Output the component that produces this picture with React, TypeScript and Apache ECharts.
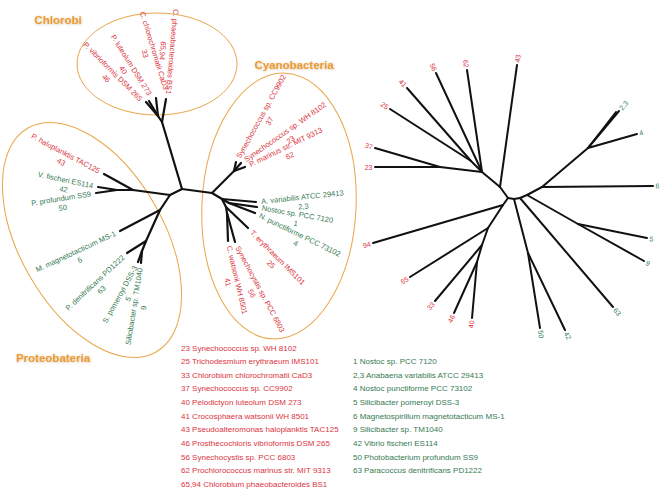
import React, { useEffect, useRef } from "react";
import * as echarts from "echarts";

const W = 662;
const H = 492;

// ---------- Left (labelled) tree: node coordinates in picture units ----------
const leftNodes: [string, number, number][] = [
  ["c0", 182, 189],
  ["ch", 162, 122], ["ch2", 158, 116],
  ["vib", 146, 102], ["lut", 149, 101], ["chl", 156, 98], ["pha", 166, 99],
  ["cy1", 212, 193], ["sn", 234, 171], ["s37", 236, 162], ["s23", 241, 163], ["s62", 245, 167],
  ["cy2", 222, 199], ["av", 256, 202], ["cyN", 229, 203], ["nos", 257, 207], ["npu", 255, 213],
  ["cyT", 226, 207], ["ter", 248, 228], ["cyS", 227, 213], ["scy", 235, 242], ["cwa", 228, 241],
  ["p1", 170, 195], ["p2", 133, 190], ["hal", 104, 174], ["p3", 117, 190], ["fis", 98, 187], ["pro", 96, 193],
  ["p4", 160, 210], ["mag", 120, 231], ["p5", 146, 241], ["den", 127, 253], ["p6", 142, 251],
  ["pom", 138, 262], ["sil", 141, 263],
];
const leftEdges: [string, string][] = [
  ["c0", "ch"], ["ch", "ch2"], ["ch2", "vib"], ["ch2", "lut"], ["ch2", "chl"], ["ch", "pha"],
  ["c0", "cy1"], ["cy1", "sn"], ["sn", "s37"], ["sn", "s23"], ["sn", "s62"],
  ["cy1", "cy2"], ["cy2", "av"], ["cy2", "cyN"], ["cyN", "nos"], ["cyN", "npu"],
  ["cy2", "cyT"], ["cyT", "ter"], ["cyT", "cyS"], ["cyS", "scy"], ["cyS", "cwa"],
  ["c0", "p1"], ["p1", "p2"], ["p2", "hal"], ["p2", "p3"], ["p3", "fis"], ["p3", "pro"],
  ["p1", "p4"], ["p4", "mag"], ["p4", "p5"], ["p5", "den"], ["p5", "p6"], ["p6", "pom"], ["p6", "sil"],
];
// leaf, name, number, colour group
const leftLabels: [string, string, string, string][] = [
  ["hal", "P. haloplanktis TAC125", "43", "r"],
  ["fis", "V. fischeri ES114", "42", "g"],
  ["pro", "P. profundum SS9", "50", "g"],
  ["mag", "M. magnetotacticum MS-1", "6", "g"],
  ["den", "P. denitrificans PD1222", "63", "g"],
  ["pom", "S. pomeroyi DSS-3", "5", "g"],
  ["sil", "Silicibacter sp. TM1040", "9", "g"],
  ["vib", "P. vibrioformis DSM 265", "46", "r"],
  ["lut", "P. luteolum DSM 273", "40", "r"],
  ["chl", "C. chlorochromatii CaD3", "33", "r"],
  ["pha", "C. phaeobacteroides BS1", "65,94", "r"],
  ["s37", "Synechococcus sp. CC9902", "37", "r"],
  ["s23", "Synechococcus sp. WH 8102", "23", "r"],
  ["s62", "P. marinus str. MIT 9313", "62", "r"],
  ["av", "A. variabilis ATCC 29413", "2,3", "g"],
  ["nos", "Nostoc sp. PCC 7120", "1", "g"],
  ["npu", "N. punctiforme PCC 73102", "4", "g"],
  ["ter", "T. erythraeum IMS101", "25", "r"],
  ["scy", "Synechocystis sp. PCC 6803", "56", "r"],
  ["cwa", "C. watsonii WH 8501", "41", "r"],
];
// label layout: reading angle (deg, clockwise), side (+1 text starts at leaf, -1 ends at leaf), normal shift (px)
const leftLabelLayout: [number, number, number][] = [
  [28, -1, 0], [12, -1, 0], [-9, -1, 0], [-25, -1, 0], [-43, -1, 0], [-61, -1, 0], [-81, -1, 0],
  [45, -1, 2], [58, -1, -4], [73, -1, -12], [95, -1, -2],
  [-61, 1, 0], [-35, 1, 0], [-26, 1, 0], [-6, 1, 0], [10, 1, 0], [26, 1, 0], [45, 1, 0], [62, 1, 0], [77, 1, 0],
];

// ---------- Right (numbered) tree ----------
const rightNodes: [string, number, number][] = [
  ["D", 500, 187], ["R0", 508, 198], ["R1", 514, 199], ["R2", 520, 198], ["E", 527, 195],
  ["A", 482, 172], ["B", 440, 167], ["C", 471, 161],
  ["n43", 517, 65], ["n62", 467, 70], ["n56", 436, 73], ["n41", 407, 88], ["n25", 390, 109],
  ["n37", 375, 148], ["n23", 375, 167],
  ["F", 542, 187], ["G", 588, 148], ["n2", 616, 112], ["n3", 619, 111], ["n4", 637, 134], ["n6", 653, 186],
  ["Hn", 578, 224], ["n5", 647, 238], ["n9", 644, 261],
  ["n63", 613, 307], ["I", 528, 253], ["n50", 540, 328], ["n42", 565, 330],
  ["J", 503, 205], ["K", 488, 228], ["n65", 410, 277], ["Ln", 482, 245], ["n33", 435, 301],
  ["M", 477, 262], ["n46", 454, 313], ["n40", 472, 318], ["n94", 373, 243],
];
const rightEdges: [string, string][] = [
  ["R0", "D"], ["D", "A"], ["D", "n43"], ["A", "B"], ["B", "n23"], ["B", "n37"],
  ["A", "C"], ["C", "n25"], ["C", "n41"], ["A", "n56"], ["A", "n62"],
  ["R0", "R1"], ["R1", "R2"], ["R2", "E"], ["R1", "I"], ["I", "n50"], ["I", "n42"], ["R2", "n63"],
  ["E", "F"], ["F", "n6"], ["F", "G"], ["G", "n2"], ["G", "n3"], ["G", "n4"],
  ["E", "Hn"], ["Hn", "n5"], ["Hn", "n9"],
  ["R0", "J"], ["J", "n94"], ["J", "K"], ["K", "n65"], ["K", "Ln"], ["Ln", "n33"],
  ["Ln", "M"], ["M", "n46"], ["M", "n40"],
];
const rightLabels: [string, string, string][] = [
  ["n43", "43", "r"], ["n62", "62", "r"], ["n56", "56", "r"], ["n41", "41", "r"], ["n25", "25", "r"],
  ["n37", "37", "r"], ["n23", "23", "r"], ["n3", "2,3", "g"], ["n4", "4", "g"], ["n6", "6", "g"],
  ["n5", "5", "g"], ["n9", "9", "g"], ["n63", "63", "g"], ["n42", "42", "g"], ["n50", "50", "g"],
  ["n40", "40", "r"], ["n46", "46", "r"], ["n33", "33", "r"], ["n65", "65", "r"], ["n94", "94", "r"],
];

// ---------- Groups and legend lists ----------
const groupNames = ["Chlorobi", "Cyanobacteria", "Proteobateria"];
const redList = [
  "23 Synechococcus sp. WH 8102",
  "25 Trichodesmium erythraeum IMS101",
  "33 Chlorobium chlorochromatii CaD3",
  "37 Synechococcus sp. CC9902",
  "40 Pelodictyon luteolum DSM 273",
  "41 Crocosphaera watsonii WH 8501",
  "43 Pseudoalteromonas haloplanktis TAC125",
  "46 Prosthecochloris vibrioformis DSM 265",
  "56 Synechocystis sp. PCC 6803",
  "62 Prochlorococcus marinus str. MIT 9313",
  "65,94 Chlorobium phaeobacteroides BS1",
];
const greenList = [
  "1 Nostoc sp. PCC 7120",
  "2,3 Anabaena variabilis ATCC 29413",
  "4 Nostoc punctiforme PCC 73102",
  "5 Silicibacter pomeroyi DSS-3",
  "6 Magnetospirillum magnetotacticum MS-1",
  "9 Silicibacter sp. TM1040",
  "42 Vibrio fischeri ES114",
  "50 Photobacterium profundum SS9",
  "63 Paracoccus denitrificans PD1222",
];

const RED = "#DB343E";
const GREEN = "#357A52";
const ORANGE = "#EE9A32";
const FONT = '"Liberation Sans", Arial, sans-serif';

export default function App() {
  const ref = useRef<HTMLDivElement>(null);
  useEffect(() => {
    if (!ref.current) return;
    const chart = echarts.init(ref.current, null, { renderer: "svg" });
    const L = new Map(leftNodes.map(([k, x, y]) => [k, [x, y] as [number, number]]));
    const R = new Map(rightNodes.map(([k, x, y]) => [k, [x, y] as [number, number]]));

    chart.setOption({
      animation: false,
      backgroundColor: "#ffffff",
      grid: { left: 0, right: 0, top: 0, bottom: 0 },
      xAxis: { type: "value", min: 0, max: W, show: false },
      yAxis: { type: "value", min: 0, max: H, inverse: true, show: false },
      series: [
        {
          type: "lines",
          coordinateSystem: "cartesian2d",
          silent: true,
          z: 3,
          data: leftEdges.map(([a, b]) => ({ coords: [L.get(a), L.get(b)] })),
          lineStyle: { color: "#111", width: 2.2, opacity: 1, cap: "round", join: "round" },
        },
        {
          type: "lines",
          coordinateSystem: "cartesian2d",
          silent: true,
          z: 3,
          data: rightEdges.map(([a, b]) => ({ coords: [R.get(a), R.get(b)] })),
          lineStyle: { color: "#111", width: 2, opacity: 1, cap: "round", join: "round" },
        },
      ],
    });

    const px = (p: number[]) => chart.convertToPixel({ xAxisIndex: 0, yAxisIndex: 0 }, p) as number[];
    const ctx = document.createElement("canvas").getContext("2d")!;
    const tw = (t: string, size: number, bold = false) => {
      ctx.font = `${bold ? "bold " : ""}${size}px "Liberation Sans"`;
      return ctx.measureText(t).width;
    };

    const g: any[] = [];
    // ellipses
    const ellipses: [number, number, number, number, number][] = [
      [157, 64, 80, 51, 0],
      [279, 206, 77, 133, -0.05],
      [92, 240, 72, 129, 0.52],
    ];
    ellipses.forEach(([cx, cy, rx, ry, rot]) => {
      const c = px([cx, cy]);
      g.push({
        type: "ellipse", x: c[0], y: c[1], rotation: rot, z: 1, silent: true,
        shape: { cx: 0, cy: 0, rx, ry },
        style: { fill: "none", stroke: "#E9A54A", lineWidth: 1 },
      });
    });

    // group titles
    const titlePos: [number, number][] = [[58, 20], [294, 65], [53, 358]];
    groupNames.forEach((t, i) => {
      const p = px(titlePos[i]);
      g.push({
        type: "text", x: p[0], y: p[1], z: 5, silent: true,
        style: {
          text: t, fill: ORANGE, font: `bold 11.5px ${FONT}`,
          align: "center", verticalAlign: "middle", textAlign: "center", textVerticalAlign: "middle",
          textShadowColor: "rgba(120,70,0,0.35)", textShadowBlur: 2, textShadowOffsetX: 0.5, textShadowOffsetY: 0.5,
        },
      });
    });

    // left tree labels
    const LS = 7.5, LH = 9.5, GAP = 5;
    leftLabels.forEach(([leaf, name, num, col], i) => {
      const [ang, side, shift] = leftLabelLayout[i];
      const a = (ang * Math.PI) / 180;
      const r = [Math.cos(a), Math.sin(a)];
      const o = [r[0] * side, r[1] * side];
      const n = [-r[1], r[0]];
      const lp = px(L.get(leaf)!);
      const w = tw(name, LS);
      const cx = lp[0] + o[0] * (GAP + w / 2) + n[0] * shift;
      const cy = lp[1] + o[1] * (GAP + w / 2) + n[1] * shift;
      g.push({
        type: "text", x: cx - (n[0] * LH) / 2, y: cy - (n[1] * LH) / 2, rotation: -a, z: 5, silent: true,
        style: {
          text: name + "\n" + num, fill: col === "r" ? RED : GREEN, font: `${LS}px ${FONT}`,
          lineHeight: LH, align: "center", verticalAlign: "top", textAlign: "center", textVerticalAlign: "top",
        },
      });
    });

    // right tree numbers
    const parent = new Map(rightEdges.map(([a, b]) => [b, a]));
    const RS = 7;
    rightLabels.forEach(([leaf, txt, col]) => {
      const lp = px(R.get(leaf)!);
      const pp = px(R.get(parent.get(leaf)!)!);
      let ux = lp[0] - pp[0], uy = lp[1] - pp[1];
      const len = Math.hypot(ux, uy);
      ux /= len; uy /= len;
      const rx = ux >= 0 ? ux : -ux, ry = ux >= 0 ? uy : -uy;
      const w = tw(txt, RS);
      const d = 2.5 + w / 2;
      g.push({
        type: "text", x: lp[0] + ux * d, y: lp[1] + uy * d, rotation: -Math.atan2(ry, rx), z: 5, silent: true,
        style: {
          text: txt, fill: col === "r" ? RED : GREEN, font: `${RS}px ${FONT}`,
          align: "center", verticalAlign: "middle", textAlign: "center", textVerticalAlign: "middle",
        },
      });
    });

    // lists
    const step = 13.65;
    redList.forEach((t, i) => {
      g.push({
        type: "text", x: 181, y: 348 + i * step, z: 5, silent: true,
        style: { text: t, fill: RED, font: `8px ${FONT}`, align: "left", verticalAlign: "middle", textAlign: "left", textVerticalAlign: "middle" },
      });
    });
    greenList.forEach((t, i) => {
      g.push({
        type: "text", x: 353, y: 348 + (i + 1) * step, z: 5, silent: true,
        style: { text: t, fill: GREEN, font: `8px ${FONT}`, align: "left", verticalAlign: "middle", textAlign: "left", textVerticalAlign: "middle" },
      });
    });

    chart.setOption({ graphic: { elements: g } });
    return () => chart.dispose();
  }, []);
  return (
    <div
      ref={ref}
      style={{ position: "absolute", left: 0, top: 0, width: W, height: H, background: "#fff" }}
    />
  );
}
